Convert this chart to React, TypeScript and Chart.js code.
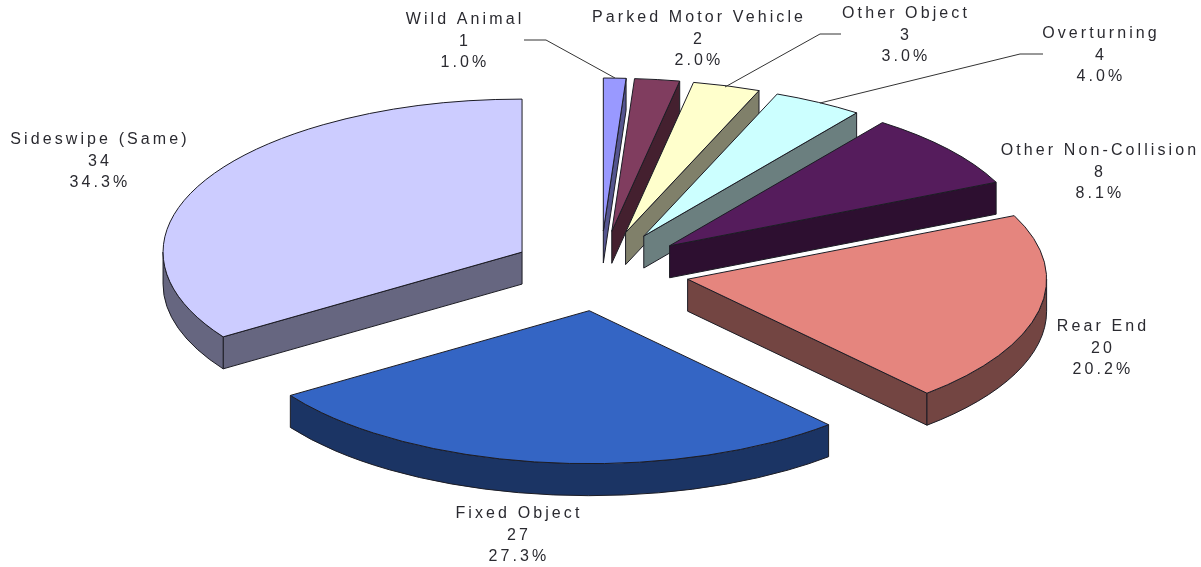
import React, { useEffect, useRef } from "react";
import { Chart, registerables } from "chart.js";

Chart.register(...registerables);

// Crash counts by collision type, clockwise from twelve o'clock.
const categories = [
  "Wild Animal",
  "Parked Motor Vehicle",
  "Other Object",
  "Overturning",
  "Other Non-Collision",
  "Rear End",
  "Fixed Object",
  "Sideswipe (Same)",
];
const counts = [1, 2, 3, 4, 8, 20, 27, 34];

const topColors = ["#9999FF", "#803D5F", "#FFFFCC", "#CCFFFF", "#551C5C", "#E5857E", "#3465C4", "#CCCCFF"];
const wallColors = ["#55558F", "#44202F", "#80806A", "#6B7F7F", "#2D0F30", "#734542", "#1B3464", "#666680"];

// Centre of each three-line label block, with the y of its first line.
const labelCenters = [
  [465, 20],
  [699, 18],
  [906, 14],
  [1101, 34],
  [1100, 151],
  [1103, 327],
  [519, 514],
  [100, 140],
];
const leaderLines = [
  [[524, 40], [546, 40], [615, 78]],
  [[841, 34], [820, 34], [725, 87]],
  [[1043, 54], [1020, 54], [820, 103]],
];

const RADIUS_X = 359;
const RADIUS_Y = 153;
const EXPLODE_X = 89;
const EXPLODE_Y = 40;
const DEPTH = 32;
const EDGE = "#1c1c24";

function drawSlice(ctx: CanvasRenderingContext2D, arc: any, i: number) {
  const { x, y, startAngle, endAngle } = arc.getProps(["x", "y", "startAngle", "endAngle"], true);
  const mid = (startAngle + endAngle) / 2;
  const ax = x + Math.cos(mid) * EXPLODE_X;
  const ay = y + Math.sin(mid) * EXPLODE_Y;
  const px = (a: number) => ax + Math.cos(a) * RADIUS_X;
  const py = (a: number) => ay + Math.sin(a) * RADIUS_Y;

  ctx.lineWidth = 1;
  ctx.lineJoin = "round";
  ctx.strokeStyle = EDGE;
  ctx.fillStyle = wallColors[i];

  // Radial walls that face the viewer
  const faces: [number, boolean][] = [
    [startAngle, Math.cos(startAngle) < 0],
    [endAngle, Math.cos(endAngle) > 0],
  ];
  for (const [a, visible] of faces) {
    if (!visible) continue;
    ctx.beginPath();
    ctx.moveTo(ax, ay);
    ctx.lineTo(px(a), py(a));
    ctx.lineTo(px(a), py(a) + DEPTH);
    ctx.lineTo(ax, ay + DEPTH);
    ctx.closePath();
    ctx.fill();
    ctx.stroke();
  }

  // Curved outer wall, front half of the ellipse only
  const from = Math.max(startAngle, 0);
  const to = Math.min(endAngle, Math.PI);
  if (to > from) {
    ctx.beginPath();
    ctx.ellipse(ax, ay, RADIUS_X, RADIUS_Y, 0, from, to);
    ctx.lineTo(px(to), py(to) + DEPTH);
    ctx.ellipse(ax, ay + DEPTH, RADIUS_X, RADIUS_Y, 0, to, from, true);
    ctx.closePath();
    ctx.fill();
    ctx.stroke();
  }

  // Top face
  ctx.fillStyle = topColors[i];
  ctx.beginPath();
  ctx.moveTo(ax, ay);
  ctx.ellipse(ax, ay, RADIUS_X, RADIUS_Y, 0, startAngle, endAngle);
  ctx.closePath();
  ctx.fill();
  ctx.stroke();
}

const pie3d = {
  id: "pie3d",
  beforeDatasetsDraw(chart: any) {
    const ctx: CanvasRenderingContext2D = chart.ctx;
    const arcs = chart.getDatasetMeta(0).data;
    const total = counts.reduce((s, v) => s + v, 0);

    ctx.save();
    arcs.forEach((arc: any, i: number) => drawSlice(ctx, arc, i));

    ctx.strokeStyle = "#333";
    ctx.lineWidth = 1;
    for (const line of leaderLines) {
      ctx.beginPath();
      line.forEach(([lx, ly], k) => (k ? ctx.lineTo(lx, ly) : ctx.moveTo(lx, ly)));
      ctx.stroke();
    }

    ctx.fillStyle = "#2a2a30";
    ctx.font = '16px "Liberation Sans"';
    (ctx as any).letterSpacing = "3.1px";
    ctx.textAlign = "center";
    ctx.textBaseline = "middle";
    categories.forEach((name, i) => {
      const [cx, cy] = labelCenters[i];
      const lines = [name, String(counts[i]), ((counts[i] / total) * 100).toFixed(1) + "%"];
      lines.forEach((t, k) => ctx.fillText(t, cx, cy + k * 21.5));
    });
    ctx.restore();
    return false;
  },
};

export default function App() {
  const ref = useRef<HTMLCanvasElement>(null);
  useEffect(() => {
    const chart = new Chart(ref.current!, {
      type: "pie",
      data: {
        labels: categories,
        datasets: [{ data: counts, backgroundColor: topColors }],
      },
      options: {
        animation: false,
        responsive: false,
        radius: 200,
        layout: { padding: { bottom: 25 } },
        plugins: { legend: { display: false }, tooltip: { enabled: false } },
      },
      plugins: [pie3d],
    } as any);
    return () => chart.destroy();
  }, []);
  return (
    <canvas
      ref={ref}
      width={1201}
      height={567}
      style={{ position: "absolute", left: 0, top: 0, display: "block", background: "#fff" }}
    />
  );
}
